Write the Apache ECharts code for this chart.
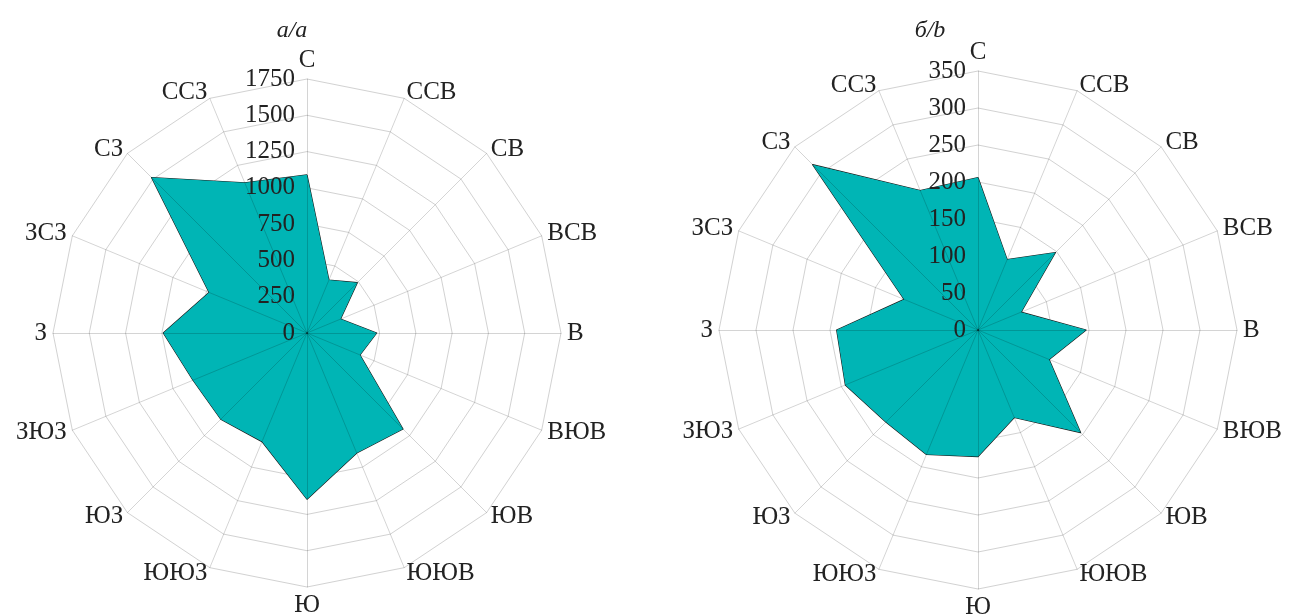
<!DOCTYPE html>
<html>
<head>
<meta charset="utf-8">
<script src="https://cdn.jsdelivr.net/npm/echarts@6/dist/echarts.min.js"></script>
<style>
  html, body { margin: 0; padding: 0; background: #fff; }
  #chart { width: 1295px; height: 615px; }
</style>
</head>
<body>
<div id="chart"></div>
<script>
// румбы, против часовой стрелки от севера (так идут индикаторы радара)
var directions = ['С', 'ССЗ', 'СЗ', 'ЗСЗ', 'З', 'ЗЮЗ', 'ЮЗ', 'ЮЮЗ', 'Ю', 'ЮЮВ', 'ЮВ', 'ВЮВ', 'В', 'ВСВ', 'СВ', 'ССВ'];
var valuesA = [1090, 1120, 1515, 730, 990, 850, 840, 810, 1145, 895, 935, 395, 480, 250, 490, 395];
var valuesB = [206, 204, 316, 108, 191, 194, 176, 182, 171, 128, 196, 104, 146, 63, 148, 103];
var maxA = 1750;
var maxB = 350;
var ringCount = 7;
var titles = ['а/a', 'б/b'];

var font = "'Liberation Serif', 'Times New Roman', serif";

function indicators(max, withLabel) {
  return directions.map(function (d, i) {
    var item = { name: d, min: 0, max: max };
    if (withLabel && i === 0) {
      item.axisLabel = { show: true };
    }
    return item;
  });
}

// нижний радар: кольца и подписи румбов
function gridRadar(center, radius, max) {
  return {
    center: center,
    radius: radius,
    shape: 'polygon',
    splitNumber: ringCount,
    indicator: indicators(max, false),
    axisName: {
      show: true,
      color: '#222',
      fontFamily: font,
      fontSize: 25
    },
    nameGap: 6,
    splitArea: { show: false },
    splitLine: { lineStyle: { color: '#d2d2d2', width: 1 } },
    axisLine: { show: false },
    axisTick: { show: false },
    axisLabel: { show: false },
    z: 0
  };
}

// верхний радар: лучи и шкала поверх заливки
function spokeRadar(center, radius, max) {
  return {
    center: center,
    radius: radius,
    shape: 'polygon',
    splitNumber: ringCount,
    indicator: indicators(max, true),
    axisName: { show: false },
    splitArea: { show: false },
    splitLine: { show: false },
    axisLine: { show: true, lineStyle: { color: 'rgba(0,0,0,0.17)', width: 1 } },
    axisTick: { show: false },
    axisLabel: {
      show: false,
      color: '#222',
      fontFamily: font,
      fontSize: 25,
      margin: 12,
      formatter: function (v) { return String(v); }
    },
    z: 5
  };
}

var centerA = [307, 333];
var centerB = [978, 330];

var titleStyle = { fontFamily: font, fontStyle: 'italic', fontWeight: 'normal', fontSize: 24, color: '#222' };

var option = {
  backgroundColor: '#fff',
  animation: false,
  title: [
    { text: titles[0], left: 287, top: 14, textAlign: 'center', textStyle: titleStyle },
    { text: titles[1], left: 925, top: 14, textAlign: 'center', textStyle: titleStyle }
  ],
  radar: [
    gridRadar(centerA, 254, maxA),
    gridRadar(centerB, 259, maxB),
    spokeRadar(centerA, 254, maxA),
    spokeRadar(centerB, 259, maxB)
  ],
  series: [
    {
      type: 'radar',
      radarIndex: 0,
      symbol: 'none',
      lineStyle: { color: '#1a1a1a', width: 1.2 },
      areaStyle: { color: '#00b5b5', opacity: 1 },
      data: [{ value: valuesA }]
    },
    {
      type: 'radar',
      radarIndex: 1,
      symbol: 'none',
      lineStyle: { color: '#1a1a1a', width: 1.2 },
      areaStyle: { color: '#00b5b5', opacity: 1 },
      data: [{ value: valuesB }]
    }
  ]
};

var myChart = echarts.init(document.getElementById('chart'));
myChart.setOption(option);
</script>
</body>
</html>
